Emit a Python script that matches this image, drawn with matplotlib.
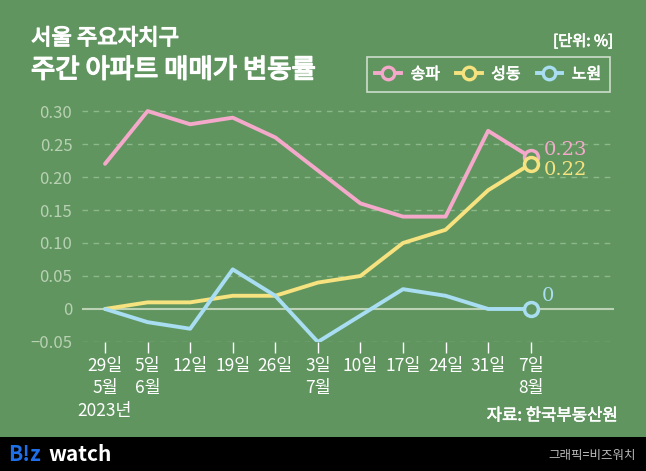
import matplotlib.pyplot as plt
import matplotlib.patheffects as pe
from matplotlib.lines import Line2D

plt.rcParams['font.family'] = ['Noto Sans CJK KR', 'DejaVu Sans']

bg = '#619560'
pink = '#F4A9CB'
yellow = '#F6E27E'
blue = '#A8DDF2'

dates = ['29일\n5월\n2023년', '5일\n6월', '12일', '19일', '26일', '3일\n7월',
         '10일', '17일', '24일', '31일', '7일\n8월']
songpa = [0.22, 0.30, 0.28, 0.29, 0.26, 0.21, 0.16, 0.14, 0.14, 0.27, 0.23]
seongdong = [0, 0.01, 0.01, 0.02, 0.02, 0.04, 0.05, 0.10, 0.12, 0.18, 0.22]
nowon = [0, -0.02, -0.03, 0.06, 0.02, -0.05, -0.01, 0.03, 0.02, 0, 0]
yticks = [-0.05, 0, 0.05, 0.10, 0.15, 0.20, 0.25, 0.30]
ylabels = ['\u22120.05', '0', '0.05', '0.10', '0.15', '0.20', '0.25', '0.30']


def bold(w):
    return [pe.withStroke(linewidth=w, foreground='white')]


fig = plt.figure(figsize=(6.46, 4.71), dpi=100)
fig.patch.set_facecolor(bg)
ax = fig.add_axes([0.127, 0.274, 0.823, 0.514])
ax.set_facecolor(bg)

x = list(range(len(dates)))
for t in yticks[2:]:
    ax.axhline(t, color='#8DB88A', lw=1, ls=(0, (4, 4)), zorder=1)
ax.axhline(-0.05, color='#8DB88A', lw=1, ls=(0, (4, 4)), zorder=1)
ax.axhline(0, color='#BCD2B5', lw=1.5, zorder=1)

series = [(songpa, pink, '송파'), (seongdong, yellow, '성동'), (nowon, blue, '노원')]
for vals, c, name in series:
    ax.plot(x, vals, color=c, lw=2.8, solid_capstyle='round', zorder=3)
    ax.plot(x[-1], vals[-1], 'o', ms=10, mfc=bg, mec=c, mew=2.5, zorder=4)

ax.text(x[-1] + 0.3, songpa[-1] + 0.011, '0.23', color=pink, fontsize=14,
        family='DejaVu Serif', va='center')
ax.text(x[-1] + 0.3, seongdong[-1] - 0.009, '0.22', color=yellow, fontsize=14,
        family='DejaVu Serif', va='center')
ax.text(x[-1] + 0.25, nowon[-1] + 0.019, '0', color=blue, fontsize=14,
        family='DejaVu Serif', va='center')

ax.set_xlim(-0.54, 11.95)
ax.set_ylim(-0.05, 0.317)
ax.set_yticks(yticks)
ax.set_yticklabels(ylabels)
ax.set_xticks(x)
ax.set_xticklabels(dates, linespacing=1.3)
for s in ax.spines.values():
    s.set_visible(False)
ax.tick_params(axis='y', length=0, colors='#B7D1B2', labelsize=12, pad=7)
ax.tick_params(axis='x', length=8, width=1, color='white', labelcolor='white',
               labelsize=12.5, pad=3, direction='out')

fig.text(0.048, 0.919, '서울 주요자치구', color='white', fontsize=16, va='center',
         path_effects=bold(0.9))
fig.text(0.048, 0.851, '주간 아파트 매매가 변동률', color='white', fontsize=19, va='center',
         path_effects=bold(1.1))
fig.text(0.949, 0.912, '[단위: %]', color='white', fontsize=11, ha='right', va='center',
         path_effects=bold(0.5))

handles = [Line2D([0], [0], color=c, lw=2.8, marker='o', ms=9, mfc=bg, mec=c, mew=2.4)
           for _, c, _ in series]
leg = fig.legend(handles, [n for _, _, n in series], loc='center',
                 bbox_to_anchor=(0.756, 0.842), ncol=3, frameon=True, fontsize=11.5,
                 handlelength=1.6, handletextpad=0.6, columnspacing=1.0,
                 borderpad=0.55, labelcolor='white')
leg.get_frame().set_facecolor(bg)
leg.get_frame().set_edgecolor('#E8EFE6')
leg.get_frame().set_linewidth(1.2)
leg.get_frame().set_boxstyle('square', pad=0)
for t in leg.get_texts():
    t.set_path_effects(bold(0.5))

fig.text(0.957, 0.117, '자료: 한국부동산원', color='white', fontsize=12, ha='right', va='center',
         path_effects=bold(0.4))

bar = fig.add_axes([0, 0, 1, 0.072])
bar.set_facecolor('black')
bar.set_xticks([])
bar.set_yticks([])
for s in bar.spines.values():
    s.set_visible(False)
bar.text(0.013, 0.5, 'B!z', color='#1E6FE8', fontsize=15, weight='bold', va='center',
         transform=bar.transAxes)
bar.text(0.075, 0.5, 'watch', color='white', fontsize=15, weight='bold', va='center',
         transform=bar.transAxes)
bar.text(0.985, 0.45, '그래픽=비즈워치', color='#BBBBBB', fontsize=9, ha='right', va='center',
         transform=bar.transAxes)

fig.savefig('out.png', dpi=100, facecolor=bg)
